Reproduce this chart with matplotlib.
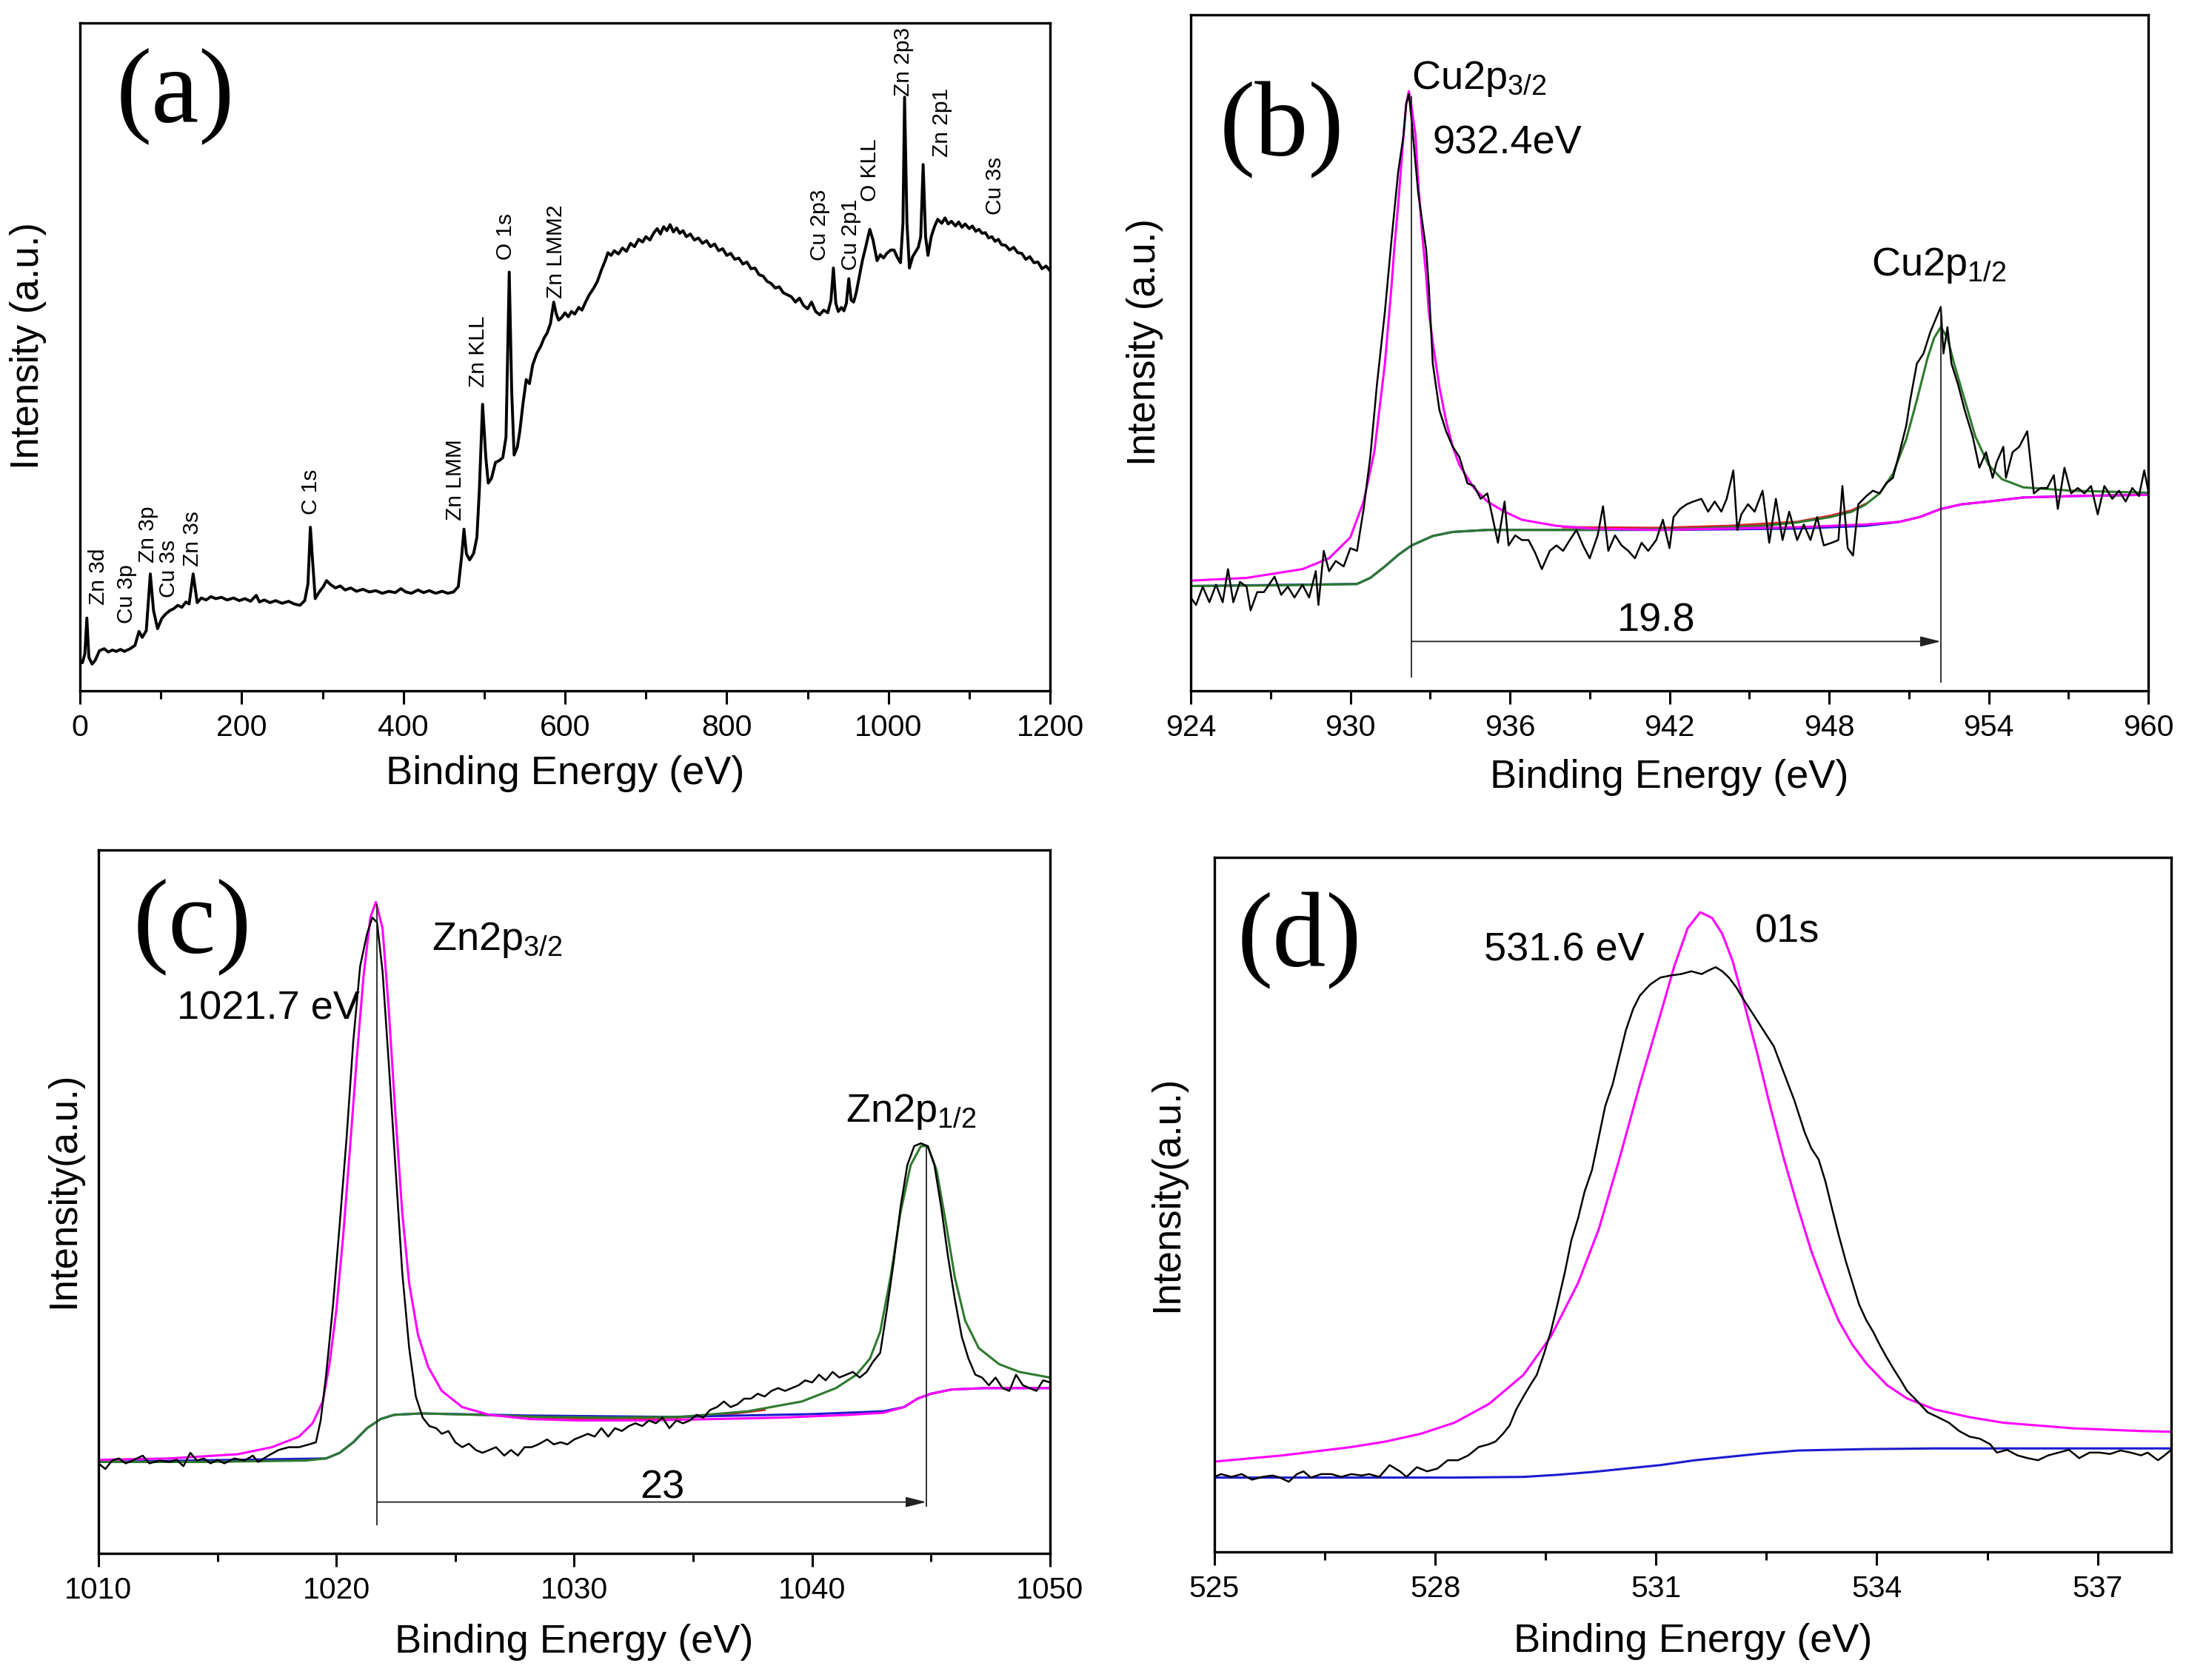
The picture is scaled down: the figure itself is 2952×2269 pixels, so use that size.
import matplotlib.pyplot as plt
from matplotlib.ticker import MultipleLocator

plt.rcParams['font.family'] = ['Liberation Sans', 'DejaVu Sans']
plt.rcParams['mathtext.fontset'] = 'custom'
plt.rcParams['mathtext.rm'] = 'Liberation Sans'
plt.rcParams['mathtext.it'] = 'Liberation Sans:italic'
plt.rcParams['mathtext.bf'] = 'Liberation Sans:bold'

# ---------------- (a) survey spectrum ----------------
survey_be = [0, 3, 6, 8.5, 11, 15, 19, 24, 30, 35, 40, 45, 50, 55, 62, 68, 73, 77, 82, 87,
             91, 96, 101, 106, 111, 116, 121, 126, 131, 135, 140, 145, 150, 156, 162, 168,
             175, 182, 190, 197, 204, 211, 218, 222, 228, 235, 242, 250, 258, 265, 272, 278,
             282, 285, 288, 291, 296, 301, 305, 310, 316, 322, 328, 335, 342, 350, 358, 366,
             374, 382, 390, 397, 403, 410, 418, 425, 432, 440, 448, 455, 462, 468, 472, 475,
             478, 482, 487, 491, 494, 498, 502, 505, 509, 514, 519, 523, 527, 531, 534, 537,
             541, 544, 548, 552, 556, 560, 565, 570, 574, 578, 582, 586, 589, 592, 596, 600,
             604, 608, 612, 617, 621, 625, 630, 635, 640, 645, 650, 653, 657, 661, 666, 671,
             676, 681, 686, 691, 696, 700, 705, 710, 714, 718, 722, 726, 730, 734, 738, 742,
             746, 750, 755, 760, 765, 770, 775, 780, 785, 790, 795, 800, 805, 810, 815, 820,
             825, 830, 835, 840, 845, 850, 855, 860, 865, 870, 875, 880, 885, 890, 895, 900,
             905, 910, 915, 920, 925, 929, 932, 935, 938, 942, 945, 948, 951, 954, 957, 960,
             964, 968, 972, 977, 981, 986, 990, 994, 998, 1003, 1007, 1011, 1015, 1018, 1020,
             1023, 1026, 1030, 1034, 1037, 1040, 1043, 1046, 1049, 1053, 1057, 1061, 1066,
             1070, 1074, 1078, 1083, 1087, 1091, 1095, 1100, 1104, 1108, 1112, 1116, 1120,
             1124, 1128, 1132, 1136, 1140, 1145, 1150, 1155, 1160, 1165, 1170, 1175, 1180,
             1185, 1190, 1195, 1200]
survey_int = [4.7, 4.2, 5.5, 10.9, 5.0, 4.0, 4.6, 6.0, 6.3, 5.8, 6.1, 5.9, 6.2, 5.9, 6.3, 6.8,
              8.9, 8.0, 9.0, 17.5, 12.0, 9.3, 10.8, 11.5, 12.0, 12.3, 12.8, 12.5, 13.3, 13.0,
              17.5, 13.2, 13.9, 13.6, 14.1, 13.8, 14.0, 13.6, 13.9, 13.5, 13.8, 13.4, 14.3,
              13.3, 13.6, 13.2, 13.5, 13.1, 13.4, 13.0, 12.8, 13.5, 16.0, 24.5, 19.0, 13.8,
              14.8, 15.6, 16.5, 15.9, 15.4, 15.7, 15.1, 15.4, 14.9, 15.2, 14.8, 15.0, 14.6,
              14.9, 14.7, 15.3, 14.8, 14.6, 15.1, 14.7, 15.0, 14.6, 14.9, 14.6, 14.8, 15.6,
              20.0, 24.2, 20.5, 19.6, 20.6, 23.0, 30.0, 42.9, 35.0, 31.1, 31.8, 34.2, 34.5,
              34.9, 38.0, 62.7, 45.0, 35.3, 36.5, 38.8, 43.0, 46.6, 46.0, 48.8, 50.5, 51.6,
              52.8, 53.6, 55.0, 58.2, 56.5, 55.5, 55.9, 56.6, 56.0, 56.8, 56.4, 57.4, 57.0,
              58.1, 59.3, 60.2, 61.3, 63.0, 64.5, 65.6, 65.2, 65.9, 65.4, 66.3, 65.8, 67.0,
              66.5, 67.6, 67.2, 68.0, 67.5, 68.6, 69.2, 68.4, 69.5, 68.9, 69.8, 68.7, 69.3,
              68.5, 68.9, 68.0, 68.4, 67.5, 67.8, 67.0, 67.4, 66.5, 66.9, 65.9, 66.2, 65.2,
              65.5, 64.6, 64.8, 63.9, 64.2, 63.2, 63.3, 62.3, 62.1, 61.3, 61.0, 60.3, 60.5,
              59.6, 59.3, 59.0, 58.2, 58.8, 57.7, 57.2, 58.2, 56.8, 56.3, 57.0, 56.6, 58.5,
              63.3, 58.0, 56.8, 57.4, 56.9, 58.0, 61.7, 58.5, 58.2, 59.5, 62.0, 64.5, 66.5,
              69.1, 67.5, 64.4, 65.3, 64.8, 65.5, 66.0, 66.0, 64.9, 64.1, 70.0, 88.9, 70.0,
              63.3, 65.0, 65.8, 66.4, 68.0, 78.8, 68.0, 65.2, 68.0, 69.5, 70.6, 70.0, 70.8,
              69.9, 70.3, 69.6, 70.2, 69.4, 69.9, 69.2, 69.6, 68.8, 69.1, 68.5, 68.6, 67.8,
              68.0, 67.3, 67.6, 66.8, 66.7, 66.0, 66.4, 65.6, 65.5, 64.6, 65.0, 64.1, 64.2,
              63.2, 63.6, 62.9]
survey_labels = ['Zn 3d', 'Cu 3p', 'Zn 3p', 'Cu 3s', 'Zn 3s', 'C 1s', 'Zn LMM', 'Zn KLL',
                 'O 1s', 'Zn LMM2', 'Cu 2p3', 'Cu 2p1', 'O KLL', 'Zn 2p3', 'Zn 2p1', 'Cu 3s']
survey_label_x = [23, 58, 84, 110, 139, 286, 464, 493, 527, 589, 915, 954, 977, 1019, 1066, 1132]
survey_label_y = [12.9, 10.1, 19.2, 14.0, 18.6, 26.4, 25.5, 45.5, 64.5, 58.8, 64.4, 63.0, 73.3,
                  89.0, 79.9, 71.3]

# ---------------- (b) Cu 2p ----------------
cu_raw_be = [924.0, 924.2, 924.45, 924.7, 924.95, 925.2, 925.4, 925.6, 925.85, 926.1, 926.25,
             926.5, 926.75, 927.15, 927.4, 927.65, 927.9, 928.2, 928.45, 928.7, 928.8, 929.0,
             929.2, 929.45, 929.75, 930.0, 930.25, 930.5, 930.75, 931.0, 931.3, 931.55, 931.8,
             932.0, 932.1, 932.2, 932.3, 932.55, 932.85, 932.95, 933.1, 933.35, 933.6, 933.85,
             934.1, 934.4, 934.65, 934.9, 935.15, 935.3, 935.55, 935.8, 935.95, 936.2, 936.45,
             936.7, 936.95, 937.2, 937.5, 937.75, 938.0, 938.25, 938.5, 938.75, 939.0, 939.3,
             939.5, 939.7, 939.95, 940.2, 940.45, 940.7, 940.95, 941.2, 941.5, 941.75, 942.0,
             942.15, 942.4, 942.65, 942.9, 943.2, 943.45, 943.7, 943.95, 944.15, 944.4, 944.55,
             944.7, 944.95, 945.2, 945.5, 945.75, 946.0, 946.25, 946.5, 946.8, 947.05, 947.3,
             947.55, 947.8, 948.1, 948.35, 948.5, 948.7, 948.9, 949.1, 949.4, 949.65, 949.9,
             950.15, 950.4, 950.65, 950.9, 951.05, 951.3, 951.55, 951.8, 952.0, 952.2, 952.3,
             952.45, 952.6, 952.85, 953.1, 953.4, 953.65, 953.9, 954.15, 954.3, 954.55, 954.65,
             954.9, 955.15, 955.45, 955.7, 955.95, 956.2, 956.45, 956.6, 956.85, 957.1, 957.35,
             957.6, 957.85, 958.1, 958.35, 958.65, 958.9, 959.15, 959.4, 959.65, 959.85, 960.0]
cu_raw_int = [13.8, 12.7, 15.4, 13.1, 15.7, 13.1, 18.0, 13.1, 16.1, 15.4, 11.9, 14.6, 14.6,
              16.9, 14.2, 15.4, 13.8, 15.7, 13.8, 17.7, 12.7, 20.7, 17.7, 19.2, 18.4, 21.1,
              20.7, 26.9, 34.6, 45.3, 56.1, 66.8, 76.8, 82.2, 86.8, 88.3, 84.5, 73.7, 65.3,
              59.9, 48.4, 41.5, 38.4, 36.1, 34.6, 30.7, 30.3, 28.4, 29.2, 26.5, 21.9, 28.0,
              21.5, 23.0, 22.3, 22.3, 20.4, 18.0, 20.7, 21.5, 20.7, 22.3, 23.8, 21.5, 19.6,
              23.0, 27.3, 20.7, 23.0, 21.5, 20.7, 19.6, 21.9, 20.7, 22.3, 25.3, 21.1, 25.7,
              26.9, 27.6, 28.0, 28.4, 26.5, 28.0, 26.5, 28.4, 32.6, 23.8, 26.1, 27.6, 26.5,
              29.6, 21.9, 28.4, 22.3, 26.5, 22.3, 24.6, 22.3, 25.7, 21.5, 21.9, 22.3, 30.3,
              21.1, 20.0, 27.6, 28.8, 29.6, 29.2, 30.7, 31.5, 35.3, 39.2, 43.0, 48.4, 49.9,
              53.0, 54.9, 56.8, 49.9, 53.8, 48.4, 45.3, 41.5, 37.6, 33.0, 35.3, 31.5, 33.8,
              36.1, 31.5, 35.3, 36.1, 38.4, 29.2, 30.0, 30.0, 31.9, 26.9, 33.0, 29.2, 30.0,
              29.2, 30.3, 26.1, 30.3, 28.4, 29.6, 28.0, 30.0, 28.8, 32.6, 29.6]
cu_fit1_be = [924.0, 926.1, 928.2, 929.2, 930.0, 930.5, 930.9, 931.3, 931.55, 931.65, 931.8,
              932.0, 932.1, 932.2, 932.3, 932.45, 932.55, 932.7, 932.85, 932.95, 933.1, 933.35,
              933.6, 933.85, 934.1, 934.4, 934.65, 935.15, 935.8, 936.45, 937.75, 939.05,
              941.6, 944.2, 946.8, 949.35, 950.65, 951.4, 952.2, 953.0, 954.0, 955.3, 957.1,
              960.0]
cu_fit1_int = [16.3, 16.7, 18.0, 19.6, 22.7, 28.0, 35.3, 48.4, 59.9, 65.3, 72.0, 82.2, 86.8,
               88.7, 86.4, 82.2, 75.3, 67.6, 61.4, 56.1, 51.5, 44.9, 39.9, 36.1, 33.4, 31.5,
               30.0, 28.0, 26.5, 25.3, 24.4, 24.0, 23.8, 24.0, 24.2, 24.6, 25.0, 25.7, 26.9,
               27.6, 28.0, 28.6, 28.8, 29.0]
cu_fit2_be = [924.0, 927.4, 930.25, 930.75, 931.3, 931.8, 932.3, 933.1, 933.85, 935.15, 939.05,
              942.9, 945.5, 946.8, 948.05, 948.85, 949.35, 949.9, 950.4, 950.9, 951.3, 951.7,
              951.95, 952.2, 952.45, 952.7, 953.1, 953.5, 954.0, 954.5, 955.3, 957.1, 960.0]
cu_fit2_int = [15.5, 15.6, 15.8, 16.7, 18.4, 20.1, 21.5, 22.9, 23.5, 23.8, 23.8, 24.0, 24.4,
               24.9, 25.7, 26.5, 27.5, 29.2, 32.1, 37.2, 43.0, 49.2, 52.2, 53.8, 52.2, 48.4,
               43.0, 37.6, 33.4, 31.3, 30.1, 29.6, 29.3]
cu_bg_be = [924.0, 930.25, 930.75, 931.3, 931.8, 932.3, 933.1, 933.85, 935.15, 942.0, 946.8,
            949.35, 950.65, 951.4, 952.2, 953.0, 954.0, 955.3, 957.1, 960.0]
cu_bg_int = [15.5, 15.8, 16.7, 18.4, 20.1, 21.5, 22.9, 23.5, 23.8, 23.8, 24.0, 24.4, 25.0,
             25.7, 26.9, 27.6, 28.0, 28.6, 28.8, 29.0]
cu_env_be = [938.0, 941.6, 944.2, 946.8, 948.05, 948.85, 949.35]
cu_env_int = [24.2, 24.1, 24.4, 25.0, 25.9, 26.7, 27.6]
cu_peaks = [932.3, 952.2]
cu_peak_tops = [88.0, 56.8]

# ---------------- (c) Zn 2p ----------------
zn_raw_be = [1010.0, 1010.29, 1010.57, 1010.86, 1011.14, 1011.43, 1011.86, 1012.14, 1012.57,
             1013.0, 1013.29, 1013.57, 1013.86, 1014.14, 1014.43, 1014.71, 1015.0, 1015.29,
             1015.71, 1016.14, 1016.49, 1016.71, 1017.14, 1017.57, 1018.0, 1018.43, 1018.86,
             1019.14, 1019.34, 1019.57, 1019.86, 1020.14, 1020.43, 1020.71, 1021.0, 1021.29,
             1021.51, 1021.71, 1021.94, 1022.2, 1022.49, 1022.77, 1023.06, 1023.34, 1023.63,
             1023.91, 1024.2, 1024.43, 1024.71, 1025.0, 1025.29, 1025.57, 1025.86, 1026.14,
             1026.43, 1026.71, 1027.06, 1027.34, 1027.63, 1027.91, 1028.2, 1028.49, 1028.86,
             1029.14, 1029.43, 1029.71, 1030.0, 1030.29, 1030.57, 1030.86, 1031.14, 1031.43,
             1031.71, 1032.0, 1032.29, 1032.57, 1032.86, 1033.14, 1033.43, 1033.71, 1034.0,
             1034.29, 1034.57, 1034.86, 1035.14, 1035.43, 1035.71, 1036.0, 1036.29, 1036.57,
             1036.86, 1037.14, 1037.43, 1037.71, 1038.0, 1038.29, 1038.57, 1038.86, 1039.14,
             1039.43, 1039.71, 1040.0, 1040.29, 1040.57, 1040.86, 1041.14, 1041.43, 1041.71,
             1042.0, 1042.29, 1042.57, 1042.86, 1043.14, 1043.43, 1043.71, 1044.0, 1044.29,
             1044.57, 1044.86, 1045.14, 1045.43, 1045.71, 1046.0, 1046.29, 1046.57, 1046.86,
             1047.14, 1047.43, 1047.71, 1048.0, 1048.29, 1048.57, 1048.86, 1049.14, 1049.43,
             1049.71, 1050.0]
zn_raw_int = [12.8, 12.0, 13.2, 13.5, 12.8, 13.2, 13.9, 12.8, 13.2, 13.0, 13.3, 12.4, 14.3,
              13.2, 13.5, 12.8, 13.3, 12.8, 13.5, 13.2, 13.9, 13.0, 13.9, 14.7, 15.1, 15.1,
              15.5, 15.8, 18.9, 25.4, 35.3, 46.8, 59.1, 72.8, 83.5, 88.1, 90.4, 89.7, 82.8,
              69.8, 54.5, 39.9, 29.2, 22.3, 19.3, 18.1, 17.8, 17.0, 17.4, 15.8, 15.1, 15.6,
              14.7, 14.3, 14.7, 15.1, 13.9, 14.7, 13.9, 15.1, 15.1, 15.5, 16.2, 15.5, 15.8,
              15.5, 16.2, 16.6, 17.0, 16.6, 17.8, 16.6, 17.8, 17.4, 18.1, 18.5, 18.1, 18.9,
              18.5, 19.3, 17.8, 18.9, 18.5, 18.9, 19.7, 19.3, 20.4, 20.8, 21.6, 20.8, 21.2,
              22.0, 22.0, 22.7, 22.3, 23.1, 23.5, 23.1, 23.5, 23.9, 24.6, 24.3, 25.4, 24.6,
              25.8, 25.0, 25.4, 25.8, 25.0, 25.8, 27.3, 28.5, 34.6, 41.5, 49.1, 55.2, 57.9,
              58.3, 57.9, 55.2, 49.1, 42.2, 36.1, 30.8, 27.7, 25.4, 25.0, 23.9, 25.0, 23.5,
              23.1, 25.4, 23.9, 23.5, 23.1, 24.6, 24.3]
zn_fit1_be = [1010.0, 1013.0, 1015.86, 1017.29, 1018.43, 1019.0, 1019.43, 1019.71, 1020.0,
              1020.29, 1020.57, 1020.86, 1021.14, 1021.43, 1021.66, 1021.94, 1022.2, 1022.49,
              1022.77, 1023.06, 1023.43, 1023.86, 1024.43, 1025.29, 1026.43, 1028.14, 1030.14,
              1033.0, 1035.86, 1038.71, 1041.57, 1043.0, 1043.86, 1044.43, 1045.0, 1045.86,
              1047.29, 1050.0]
zn_fit1_int = [13.3, 13.5, 14.1, 15.1, 16.6, 18.5, 21.6, 26.9, 34.6, 45.3, 57.5, 70.5, 82.0,
               90.4, 92.6, 88.9, 77.4, 62.1, 48.4, 38.4, 31.1, 26.5, 23.1, 20.8, 19.7, 19.1,
               18.9, 18.9, 19.1, 19.3, 19.7, 20.0, 20.8, 22.0, 22.7, 23.3, 23.5, 23.5]
zn_fit2_be = [1010.0, 1014.43, 1018.71, 1019.57, 1020.14, 1020.71, 1021.29, 1021.86, 1022.43,
              1023.57, 1025.86, 1028.71, 1031.57, 1034.43, 1037.29, 1039.57, 1041.0, 1041.86,
              1042.43, 1042.86, 1043.29, 1043.71, 1044.14, 1044.57, 1044.86, 1045.23, 1045.63,
              1046.0, 1046.43, 1047.0, 1047.86, 1048.71, 1050.0]
zn_fit2_int = [13.0, 13.0, 13.2, 13.5, 14.3, 15.8, 17.8, 19.1, 19.7, 19.9, 19.7, 19.4, 19.3,
               19.4, 20.2, 21.6, 23.5, 25.4, 27.7, 31.5, 39.2, 48.4, 55.2, 57.9, 57.9, 54.5,
               46.8, 39.2, 33.1, 29.2, 26.9, 25.8, 25.0]
zn_bg_be = [1010.0, 1019.57, 1020.14, 1020.71, 1021.29, 1021.86, 1022.43, 1023.57, 1028.0,
            1034.0, 1040.0, 1043.0, 1043.86, 1044.43, 1045.0, 1045.86, 1047.29, 1050.0]
zn_bg_int = [13.0, 13.5, 14.3, 15.8, 17.8, 19.1, 19.7, 19.9, 19.6, 19.4, 19.8, 20.2, 20.8,
             22.0, 22.7, 23.3, 23.5, 23.5]
zn_env_be = [1028.0, 1030.0, 1033.0, 1036.0, 1038.0]
zn_env_int = [19.4, 19.2, 19.1, 19.6, 20.4]
zn_peaks = [1021.7, 1044.8]
zn_peak_tops = [92.3, 57.9]

# ---------------- (d) O 1s ----------------
o_raw_be = [525.0, 525.09, 525.23, 525.37, 525.51, 525.65, 525.79, 525.89, 526.01, 526.12,
            526.21, 526.31, 526.45, 526.59, 526.72, 526.86, 527.0, 527.1, 527.24, 527.38,
            527.52, 527.61, 527.75, 527.89, 528.03, 528.17, 528.31, 528.45, 528.59, 528.73,
            528.82, 528.92, 529.01, 529.1, 529.2, 529.29, 529.38, 529.48, 529.57, 529.66,
            529.76, 529.85, 529.94, 530.03, 530.13, 530.22, 530.31, 530.41, 530.5, 530.59,
            530.69, 530.78, 530.92, 531.06, 531.2, 531.34, 531.48, 531.62, 531.71, 531.81,
            531.9, 531.99, 532.09, 532.18, 532.32, 532.46, 532.6, 532.74, 532.88, 533.02,
            533.11, 533.21, 533.3, 533.39, 533.48, 533.58, 533.67, 533.76, 533.86, 533.95,
            534.04, 534.14, 534.23, 534.32, 534.41, 534.55, 534.69, 534.83, 534.98, 535.12,
            535.26, 535.4, 535.54, 535.63, 535.77, 535.91, 536.05, 536.19, 536.33, 536.47,
            536.61, 536.75, 536.89, 537.03, 537.17, 537.31, 537.45, 537.59, 537.68, 537.82,
            537.91, 538.0]
o_raw_int = [10.8, 11.2, 10.8, 11.2, 10.4, 10.8, 11.0, 10.7, 10.1, 11.2, 11.6, 10.7, 11.2,
             11.2, 10.8, 11.2, 11.0, 11.2, 10.8, 12.5, 11.6, 10.8, 12.2, 11.6, 12.0, 13.2,
             13.2, 13.9, 15.1, 15.5, 15.9, 17.0, 18.2, 20.5, 22.4, 24.0, 25.5, 28.6, 31.7,
             35.6, 40.2, 44.9, 48.0, 51.9, 55.0, 59.6, 64.2, 67.3, 71.2, 75.1, 78.2, 80.1,
             81.7, 82.7, 83.0, 83.2, 83.6, 83.2, 83.7, 84.2, 83.6, 82.7, 81.3, 79.7, 77.4,
             75.1, 72.8, 68.9, 65.0, 60.4, 58.1, 56.5, 53.4, 49.5, 45.7, 41.8, 38.7, 35.6,
             33.3, 31.7, 29.8, 27.9, 26.3, 24.8, 23.2, 21.7, 20.1, 19.4, 18.6, 17.4, 16.6,
             16.3, 15.5, 14.3, 14.7, 13.9, 13.5, 13.2, 13.9, 14.3, 14.7, 13.5, 14.3, 14.3,
             14.1, 14.6, 14.3, 13.9, 14.3, 13.2, 13.9, 14.7]
o_fit_be = [525.0, 525.93, 526.86, 527.33, 527.8, 528.26, 528.73, 529.2, 529.57, 529.94,
            530.22, 530.5, 530.78, 531.06, 531.25, 531.43, 531.6, 531.76, 531.9, 532.04,
            532.18, 532.37, 532.55, 532.74, 532.93, 533.11, 533.3, 533.48, 533.67, 533.86,
            534.14, 534.41, 534.79, 535.26, 535.72, 536.19, 536.66, 537.12, 537.59, 538.0]
o_fit_int = [13.0, 13.9, 15.1, 15.9, 17.0, 18.6, 21.3, 25.5, 31.0, 38.7, 46.4, 56.5, 67.3,
             77.4, 84.4, 89.8, 92.1, 91.3, 89.0, 85.1, 79.7, 72.0, 64.2, 56.5, 49.5, 43.3,
             37.9, 33.3, 29.8, 27.1, 24.0, 22.1, 20.5, 19.4, 18.6, 18.2, 17.8, 17.6, 17.4,
             17.3]
o_bg_be = [525.0, 526.4, 528.26, 529.2, 529.66, 530.13, 530.59, 531.06, 531.53, 532.0, 532.46,
           532.93, 533.39, 533.86, 534.79, 538.0]
o_bg_int = [10.7, 10.7, 10.7, 10.8, 11.1, 11.5, 12.0, 12.5, 13.2, 13.7, 14.2, 14.6, 14.7,
            14.8, 14.9, 14.9]

MAGENTA = '#ff00ff'
GREEN = '#2e7a2e'
BLUE = '#1c1ccf'
RED = '#e0202a'
TXT = 39

fig = plt.figure(figsize=(29.52, 22.69), dpi=100)
ax_a = fig.add_axes([0.03659, 0.58881, 0.44377, 0.39753])
ax_b = fig.add_axes([0.54472, 0.58881, 0.43801, 0.40238])
ax_c = fig.add_axes([0.04505, 0.07536, 0.43530, 0.41869])
ax_d = fig.add_axes([0.55556, 0.07625, 0.43767, 0.41340])


def style(ax, xlim, major, minor, ylabel, ylab_x, xlab_y, letter, lx, ly):
    ax.set_xlim(xlim)
    ax.set_ylim(0, 100)
    ax.xaxis.set_major_locator(MultipleLocator(major))
    ax.xaxis.set_minor_locator(MultipleLocator(minor))
    ax.set_yticks([])
    ax.tick_params(axis='x', which='major', direction='out', length=13, width=2.2,
                   labelsize=29.5, pad=9)
    ax.tick_params(axis='x', which='minor', direction='out', length=8, width=2.2)
    for s in ax.spines.values():
        s.set_linewidth(2.4)
    ax.set_xlabel('Binding Energy (eV)', fontsize=39)
    ax.set_ylabel(ylabel, fontsize=38)
    ax.xaxis.set_label_coords(0.5, xlab_y)
    ax.yaxis.set_label_coords(ylab_x, 0.516)
    ax.text(lx, ly, letter, transform=ax.transAxes, ha='left', va='top',
            fontsize=104, family='Liberation Serif')


# (a)
ax_a.plot(survey_be, survey_int, color='black', lw=2.8, solid_joinstyle='round')
for lab, x, y in zip(survey_labels, survey_label_x, survey_label_y):
    ax_a.text(x, y, lab, rotation=90, ha='center', va='bottom', fontsize=21.5)
style(ax_a, (0, 1200), 200, 100, 'Intensity (a.u.)', -0.034, -0.096, '(a)', 0.037, 0.963)

# (b)
ax_b.plot(cu_env_be, cu_env_int, color=RED, lw=2.2)
ax_b.plot(cu_bg_be, cu_bg_int, color=BLUE, lw=2.2)
ax_b.plot(cu_fit2_be, cu_fit2_int, color=GREEN, lw=2.2)
ax_b.plot(cu_fit1_be, cu_fit1_int, color=MAGENTA, lw=2.2)
ax_b.plot(cu_raw_be, cu_raw_int, color='black', lw=1.8)
ax_b.vlines(cu_peaks, [2.0, 1.2], cu_peak_tops, color='#222222', lw=1.3)
ax_b.annotate('', xy=(cu_peaks[1], 7.3), xytext=(cu_peaks[0], 7.3),
              arrowprops=dict(arrowstyle='-|>,head_length=0.6,head_width=0.15',
                              color='#222222', lw=1.3, mutation_scale=28,
                              shrinkA=0, shrinkB=0))
ax_b.text(941.5, 10.3, '19.8', ha='center', va='center', fontsize=TXT)
ax_b.text(932.3, 89.0, r'Cu2p$_\mathregular{3/2}$', ha='left', va='baseline', fontsize=TXT)
ax_b.text(933.1, 79.5, '932.4eV', ha='left', va='baseline', fontsize=TXT)
ax_b.text(949.6, 61.4, r'Cu2p$_\mathregular{1/2}$', ha='left', va='baseline', fontsize=TXT)
style(ax_b, (924, 960), 6, 3, 'Intensity (a.u.)', -0.029, -0.101, '(b)', 0.030, 0.901)

# (c)
ax_c.plot(zn_env_be, zn_env_int, color=RED, lw=2.2)
ax_c.plot(zn_bg_be, zn_bg_int, color=BLUE, lw=2.2)
ax_c.plot(zn_fit2_be, zn_fit2_int, color=GREEN, lw=2.2)
ax_c.plot(zn_fit1_be, zn_fit1_int, color=MAGENTA, lw=2.2)
ax_c.plot(zn_raw_be, zn_raw_int, color='black', lw=1.8)
ax_c.vlines(zn_peaks, [4.0, 6.6], zn_peak_tops, color='#222222', lw=1.3)
ax_c.annotate('', xy=(zn_peaks[1], 7.3), xytext=(zn_peaks[0], 7.3),
              arrowprops=dict(arrowstyle='-|>,head_length=0.6,head_width=0.15',
                              color='#222222', lw=1.3, mutation_scale=28,
                              shrinkA=0, shrinkB=0))
ax_c.text(1033.7, 9.3, '23', ha='center', va='center', fontsize=TXT)
ax_c.text(1024.0, 85.8, r'Zn2p$_\mathregular{3/2}$', ha='left', va='baseline', fontsize=TXT)
ax_c.text(1013.3, 76.0, '1021.7 eV', ha='left', va='baseline', fontsize=TXT)
ax_c.text(1041.4, 61.4, r'Zn2p$_\mathregular{1/2}$', ha='left', va='baseline', fontsize=TXT)
style(ax_c, (1010, 1050), 10, 5, 'Intensity(a.u.)', -0.017, -0.100, '(c)', 0.036, 0.960)

# (d)
ax_d.plot(o_bg_be, o_bg_int, color=BLUE, lw=2.2)
ax_d.plot(o_fit_be, o_fit_int, color=MAGENTA, lw=2.2)
ax_d.plot(o_raw_be, o_raw_int, color='black', lw=1.8)
ax_d.text(528.66, 85.1, '531.6 eV', ha='left', va='baseline', fontsize=TXT)
ax_d.text(532.34, 87.8, '01s', ha='left', va='baseline', fontsize=TXT)
style(ax_d, (525, 538), 3, 1.5, 'Intensity(a.u.)', -0.030, -0.102, '(d)', 0.024, 0.950)

fig.savefig('out.png', dpi=100)
